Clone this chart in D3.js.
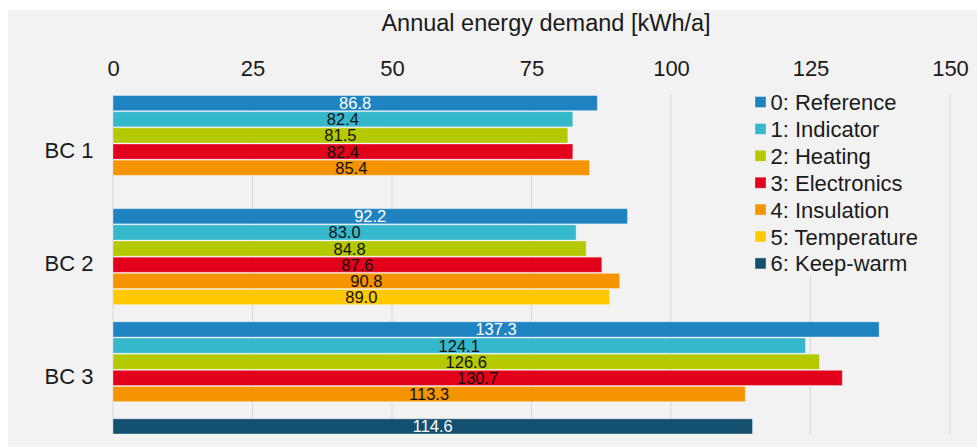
<!DOCTYPE html>
<html><head><meta charset="utf-8">
<script src="https://cdn.jsdelivr.net/npm/d3@7"></script>
<style>body{margin:0;background:#fff}svg{display:block;font-family:"Liberation Sans",Arial,sans-serif}</style>
</head><body><svg id="c" width="977" height="448"></svg>
<script>
const categories = ["BC 1", "BC 2", "BC 3"];
const seriesNames = ["0: Reference", "1: Indicator", "2: Heating", "3: Electronics", "4: Insulation", "5: Temperature", "6: Keep-warm"];
const seriesColors = ["#1f83c1", "#35b8cb", "#b5c900", "#e2001a", "#f39400", "#ffc800", "#14506f"];
const labelColors = ["#fff", "#111", "#111", "#111", "#111", "#111", "#fff"];
const reference   = [86.8, 92.2, 137.3];
const indicator   = [82.4, 83.0, 124.1];
const heating     = [81.5, 84.8, 126.6];
const electronics = [82.4, 87.6, 130.7];
const insulation  = [85.4, 90.8, 113.3];
const temperature = [null, 89.0, null];
const keepWarm    = [null, null, 114.6];
const tickValues  = [0, 25, 50, 75, 100, 125, 150];
const axisTitle = "Annual energy demand [kWh/a]";

const seriesValues = [reference, indicator, heating, electronics, insulation, temperature, keepWarm];
const svg = d3.select("#c");
svg.append("rect").attr("x", 8).attr("y", 10).attr("width", 969).attr("height", 437).attr("fill", "#f2f2f2");

const x = d3.scaleLinear().domain([0, 150]).range([113, 950]);
const y = d3.scaleBand().domain(categories).range([95, 434.5]).padding(0);
const ys = d3.scaleBand().domain(d3.range(seriesNames.length)).range([0, y.bandwidth()]).padding(0);

// gridlines
svg.append("g").selectAll("line").data(tickValues).join("line")
  .attr("x1", d => x(d)).attr("x2", d => x(d)).attr("y1", 95).attr("y2", 434.5)
  .attr("stroke", "#d9d9d9").attr("stroke-width", 1);

// top axis
const axis = d3.axisTop(x).tickValues(tickValues).tickSize(0).tickPadding(0);
const ag = svg.append("g").attr("transform", "translate(0,76)").call(axis);
ag.select(".domain").remove();
ag.selectAll("text").attr("font-size", 22).attr("fill", "#1a1a1a").attr("font-family", "Liberation Sans, Arial, sans-serif");

svg.append("text").attr("x", 546).attr("y", 31).attr("text-anchor", "middle")
  .attr("font-size", 23.5).attr("fill", "#1a1a1a").text(axisTitle);

// category labels
svg.append("g").selectAll("text").data(categories).join("text")
  .attr("x", 69).attr("y", d => y(d) + y.bandwidth() / 2 + 6.5).attr("text-anchor", "middle")
  .attr("font-size", 22).attr("fill", "#1a1a1a").text(d => d);

// bars
const flat = [];
seriesValues.forEach((vals, si) => vals.forEach((v, ci) => { if (v != null) flat.push({si, ci, v}); }));
const bg = svg.append("g");
bg.selectAll("rect").data(flat).join("rect")
  .attr("x", x(0)).attr("y", d => y(categories[d.ci]) + ys(d.si) + 0.5)
  .attr("width", d => x(d.v) - x(0)).attr("height", ys.bandwidth() - 1)
  .attr("fill", d => seriesColors[d.si])
  .attr("stroke", "rgba(255,255,255,0.35)").attr("stroke-width", 1);
bg.selectAll("text").data(flat).join("text")
  .attr("x", d => (x(0) + x(d.v)) / 2).attr("y", d => y(categories[d.ci]) + ys(d.si) + 14)
  .attr("text-anchor", "middle").attr("font-size", 16.5).attr("fill", d => labelColors[d.si])
  .text(d => d.v.toFixed(1));

// legend
const lg = svg.append("g");
lg.append("rect").attr("x", 745).attr("y", 88).attr("width", 190).attr("height", 188).attr("fill", "#f2f2f2");
const li = lg.selectAll("g").data(seriesNames).join("g")
  .attr("transform", (d, i) => `translate(755,${102.5 + i * 26.9})`);
li.append("rect").attr("x", 0).attr("y", -6).attr("width", 11).attr("height", 11)
  .attr("fill", (d, i) => seriesColors[i]).attr("stroke", "rgba(255,255,255,0.35)");
li.append("text").attr("x", 15.5).attr("y", 7.5).attr("font-size", 22).attr("fill", "#1a1a1a").text(d => d);
</script></body></html>
